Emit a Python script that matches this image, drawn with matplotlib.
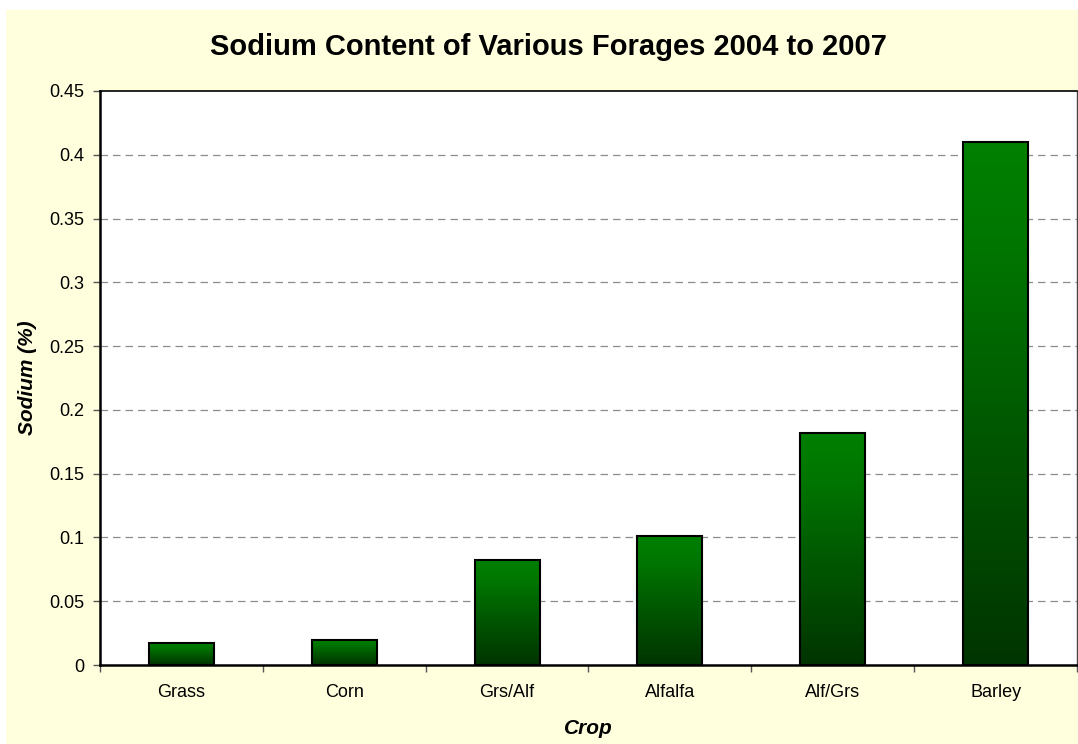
import matplotlib
matplotlib.use("Agg")
import matplotlib.pyplot as plt
import numpy as np
from matplotlib.colors import LinearSegmentedColormap
from matplotlib.patches import Rectangle

plt.rcParams['font.family'] = ['Liberation Sans', 'DejaVu Sans']

crops = ["Grass", "Corn", "Grs/Alf", "Alfalfa", "Alf/Grs", "Barley"]
sodium = [0.0172, 0.0196, 0.0823, 0.101, 0.182, 0.410]
yticks = [0, 0.05, 0.1, 0.15, 0.2, 0.25, 0.3, 0.35, 0.4, 0.45]
ytick_labels = ["0", "0.05", "0.1", "0.15", "0.2", "0.25", "0.3", "0.35", "0.4", "0.45"]

W, H = 1078, 744
fig = plt.figure(figsize=(W / 100, H / 100), dpi=100, facecolor="white")
# light yellow chart area
fig.patches.append(Rectangle((6 / W, 0), (W - 6) / W, (H - 10) / H,
                             transform=fig.transFigure, facecolor="#FFFFDE",
                             edgecolor="none", zorder=-10))

ax = fig.add_axes([100 / W, (H - 665) / H, (1077 - 100) / W, (665 - 91) / H])
ax.set_zorder(1)
ax.set_facecolor("white")

x = np.arange(len(crops))
cmap = LinearSegmentedColormap.from_list(
    "g", [(0.0, "#003400"), (0.45, "#005800"), (0.8, "#007600"), (1.0, "#008000")])
grad = np.linspace(0, 1, 256).reshape(-1, 1)

bars = ax.bar(x, sodium, width=0.4, facecolor="none", edgecolor="black",
              linewidth=1.5, zorder=3)
for b in bars:
    bx, by = b.get_x(), b.get_y()
    bw, bh = b.get_width(), b.get_height()
    im = ax.imshow(grad, cmap=cmap, origin="lower", aspect="auto",
                   extent=[bx, bx + bw, by, by + bh], zorder=2,
                   interpolation="bilinear")
    im.set_clip_path(b)

ax.set_xlim(-0.5, len(crops) - 0.5)
ax.set_ylim(0, 0.45)

# gridlines
for yv in yticks[1:-1]:
    ax.axhline(yv, color="#8c8c8c", linewidth=0.9, dashes=(6, 4), zorder=1)

ax.set_yticks(yticks)
ax.set_yticklabels(ytick_labels, fontsize=13)
ax.tick_params(axis="y", direction="out", length=5, width=1, color="#555555", pad=6)

ax.set_xticks(np.arange(len(crops) + 1) - 0.5)
ax.set_xticklabels([])
ax.set_xticks(x, minor=True)
ax.set_xticklabels(crops, minor=True, fontsize=13)
ax.tick_params(axis="x", which="major", direction="out", length=5, width=1, color="#555555")
ax.tick_params(axis="x", which="minor", length=0, pad=14)

for s in ["left", "bottom"]:
    ax.spines[s].set_linewidth(1.8)
    ax.spines[s].set_color("black")
ax.spines["top"].set_linewidth(1.2)
ax.spines["top"].set_color("black")
ax.spines["right"].set_linewidth(1.0)
ax.spines["right"].set_color("#444444")

ax.set_ylabel("Sodium (%)", fontsize=15, fontweight="bold", fontstyle="italic")
ax.set_xlabel("Crop", fontsize=15, fontweight="bold", fontstyle="italic")
ax.yaxis.set_label_coords((28 - 100) / (1077 - 100), 0.5)
ax.xaxis.set_label_coords(0.5, -(728 - 665) / (665 - 91))
ax.xaxis.label.set_va("center")
ax.yaxis.label.set_va("center")

fig.text(548 / W, 1 - 47 / H, "Sodium Content of Various Forages 2004 to 2007",
         fontsize=21, fontweight="bold", ha="center", va="center")

fig.savefig("out.png", dpi=100, facecolor=fig.get_facecolor())
